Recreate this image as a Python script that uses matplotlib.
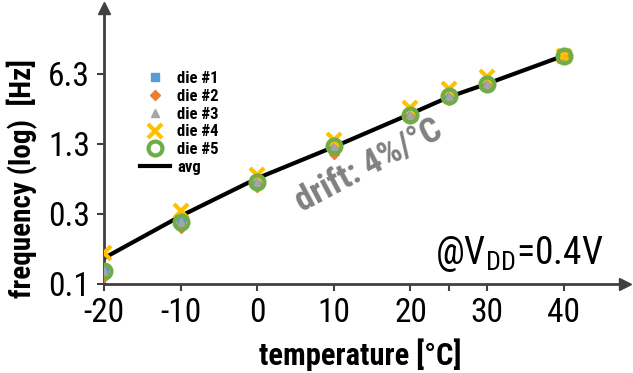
import matplotlib
matplotlib.use("Agg")
import matplotlib.pyplot as plt

temps = [-20, -10, 0, 10, 20, 25, 30, 40]
die1 = [0.131, 0.345, 0.748, 1.52, 2.83, 4.17, 5.28, 9.18]
die2 = [0.115, 0.303, 0.677, 1.32, 2.67, 3.83, 4.99, 9.18]
die3 = [0.130, 0.343, 0.746, 1.53, 2.82, 4.16, 5.27, 9.18]
die4 = [0.184, 0.423, 0.869, 1.74, 3.24, 4.72, 5.97, 9.18]
die5 = [0.130, 0.343, 0.746, 1.53, 2.82, 4.16, 5.27, 9.18]
avg = [0.167, 0.384, 0.811, 1.51, 2.90, 4.05, 5.27, 9.18]

xticks = [-20, -10, 0, 10, 20, 25, 30, 40]
xticklabels = ["-20", "-10", "0", "10", "20", "", "30", "40"]
yticks = [0.1, 0.4, 1.6, 6.4]
yticklabels = ["0.1", "0.3", "1.3", "6.3"]

FONT = ['Roboto Condensed', 'Liberation Sans', 'DejaVu Sans']
plt.rcParams['font.family'] = FONT

fig = plt.figure(figsize=(6.33, 3.73), dpi=100)
W, H = 633, 373
ax = fig.add_axes([104 / W, (H - 284) / H, (625 - 104) / W, (284 - 8) / H])
ax.set_yscale('log')
ax.set_xlim(-20, 48)
ax.set_ylim(0.1, 23.6)

AX = '#404040'
ax.plot(temps, avg, color='black', lw=3, zorder=2, label='avg')
ax.plot(temps, die1, 's', color='#5B9BD5', ms=6, zorder=3, label='die #1')
ax.plot(temps, die2, 'D', color='#ED7D31', ms=5, zorder=3, label='die #2')
ax.plot(temps, die3, '^', color='#A5A5A5', ms=6, zorder=3, label='die #3')
ax.plot(temps, die4, 'x', color='#FFC000', ms=9.5, mew=3, zorder=3, label='die #4')
ax.plot(temps, die5, 'o', mfc='none', mec='#70AD47', ms=10, mew=3, zorder=4, label='die #5')

for s in ['top', 'right']:
    ax.spines[s].set_visible(False)
for s in ['left', 'bottom']:
    ax.spines[s].set_linewidth(2)
    ax.spines[s].set_color(AX)
ax.plot(1, 0, '>', color=AX, ms=8, transform=ax.transAxes, clip_on=False)
ax.plot(0, 1, '^', color=AX, ms=8, transform=ax.transAxes, clip_on=False)

ax.set_xticks(xticks)
ax.set_xticklabels(xticklabels, fontsize=24)
ax.set_yticks(yticks)
ax.set_yticklabels(yticklabels, fontsize=24)
ax.minorticks_off()
ax.tick_params(axis='both', length=5, width=1.5, color=AX)
ax.tick_params(axis='x', pad=4)
ax.tick_params(axis='y', pad=5)

ax.set_xlabel('temperature [°C]', fontsize=22, fontweight='bold')
ax.xaxis.set_label_coords((360 - 104) / 521, (284 - 355) / 276)
ax.xaxis.label.set_va('center')
ax.set_ylabel('frequency (log)  [Hz]', fontsize=21, fontweight='bold')
ax.yaxis.set_label_coords((22 - 104) / 521, (284 - 179) / 276)
ax.yaxis.label.set_va('center')

handles, labels = ax.get_legend_handles_labels()
order = [1, 2, 3, 4, 5, 0]
leg = ax.legend([handles[i] for i in order], [labels[i] for i in order],
                loc='upper left', bbox_to_anchor=(140 / W, 1 - 71 / H),
                bbox_transform=fig.transFigure, frameon=False,
                prop={'weight': 'bold', 'size': 12}, handlelength=1.8,
                handletextpad=0.42, labelspacing=0.17, borderpad=0,
                borderaxespad=0)

ax.text(14.5, 1.05, 'drift: 4%/°C', fontsize=25, fontweight='bold', color='#808080',
        rotation=28, ha='center', va='center', rotation_mode='anchor')
fig.text(603 / W, 1 - 254 / H, r'@V$_{\mathregular{DD}}$=0.4V', fontsize=27,
         ha='right', va='center')

fig.savefig('out.png', dpi=100)
